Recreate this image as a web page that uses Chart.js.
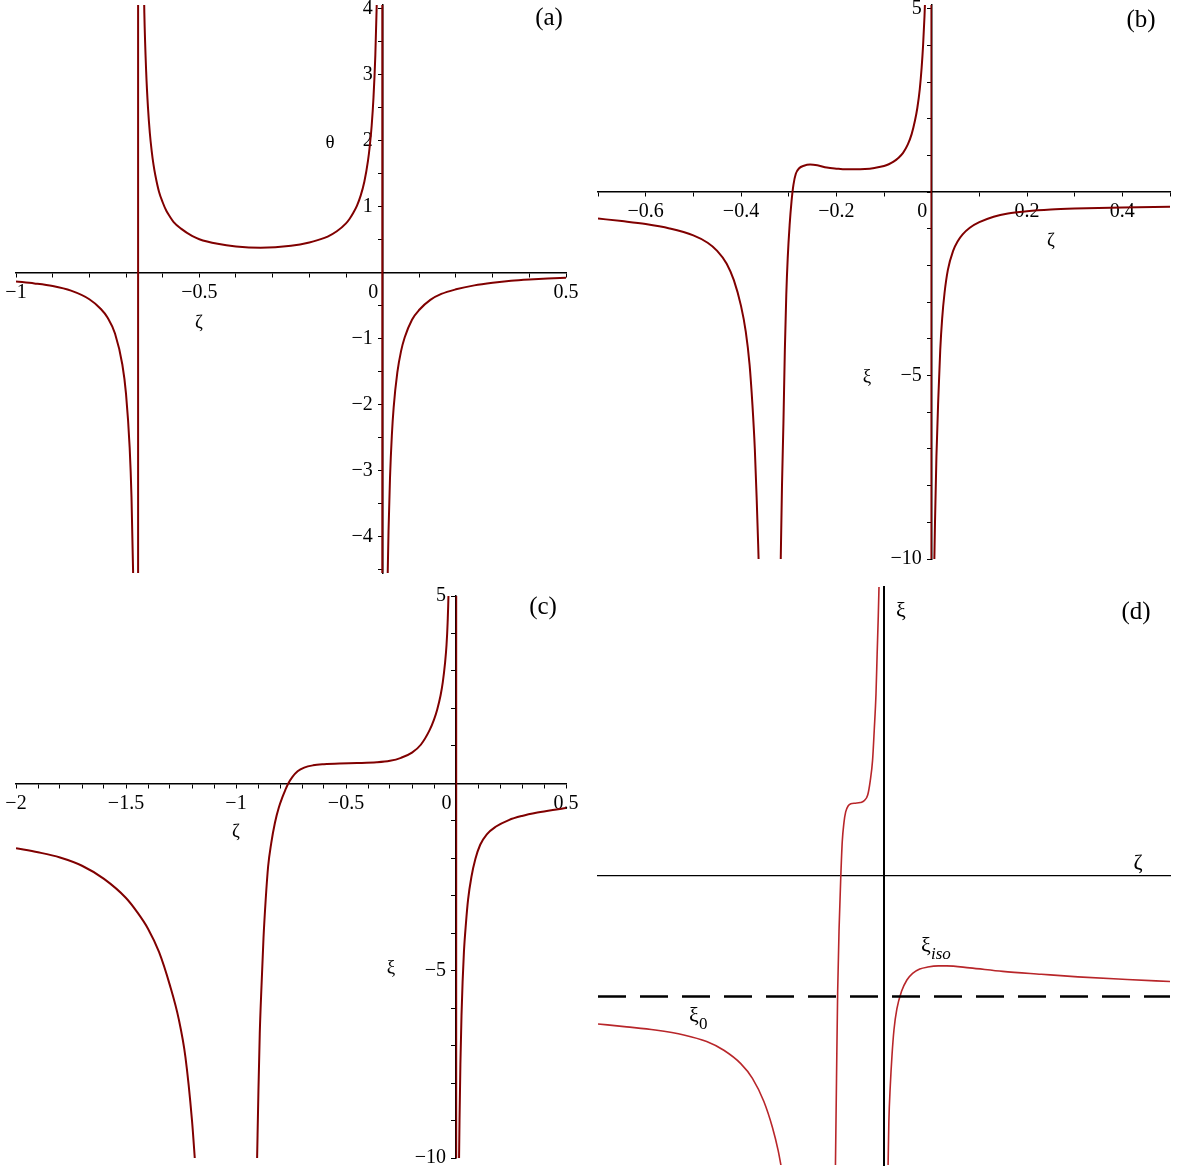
<!DOCTYPE html>
<html>
<head>
<meta charset="utf-8">
<script src="https://cdn.jsdelivr.net/npm/chart.js@4.4.1/dist/chart.umd.min.js"></script>
<style>
    body { margin: 0; background: #fff; }
    #wrap { position: relative; width: 1178px; height: 1167px; }
    canvas { position: absolute; }
</style>
</head>
<body>
<div id="wrap">
    <canvas id="plotA" width="589" height="580" style="left:0;top:0"></canvas>
    <canvas id="plotB" width="589" height="580" style="left:589px;top:0"></canvas>
    <canvas id="plotC" width="589" height="587" style="left:0;top:580px"></canvas>
    <canvas id="plotD" width="589" height="587" style="left:589px;top:580px"></canvas>
</div>
<script>
// (a) theta(zeta)
const aZetaLeft = [-1, -0.95, -0.9, -0.85, -0.8, -0.77, -0.75, -0.73, -0.71, -0.7, -0.69, -0.685, -0.68, -0.678]
const aThetaLeft = [-0.13, -0.16, -0.2, -0.27, -0.4, -0.54, -0.68, -0.92, -1.39, -1.83, -2.65, -3.4, -4.7, -5.55]
const aZetaMid = [-0.655, -0.65, -0.645, -0.64, -0.635, -0.63, -0.625, -0.62, -0.61, -0.6, -0.59, -0.58, -0.57, -0.55, -0.52, -0.5, -0.45, -0.4, -0.333, -0.25, -0.2, -0.175, -0.15, -0.125, -0.1, -0.09, -0.08, -0.07, -0.06, -0.05, -0.04, -0.035, -0.03, -0.025, -0.02, -0.016, -0.014]
const aThetaMid = [5.58, 3.94, 3.05, 2.5, 2.12, 1.85, 1.64, 1.48, 1.23, 1.07, 0.94, 0.85, 0.77, 0.67, 0.56, 0.51, 0.44, 0.4, 0.38, 0.41, 0.46, 0.5, 0.55, 0.63, 0.75, 0.82, 0.91, 1.02, 1.17, 1.38, 1.7, 1.93, 2.23, 2.66, 3.3, 4.1, 4.67]
const aZetaRight = [0.012, 0.014, 0.016, 0.02, 0.025, 0.03, 0.04, 0.05, 0.06, 0.08, 0.1, 0.13, 0.16, 0.2, 0.25, 0.3, 0.35, 0.4, 0.45, 0.5]
const aThetaRight = [-5.24, -4.48, -3.91, -3.11, -2.47, -2.04, -1.51, -1.19, -0.98, -0.71, -0.56, -0.41, -0.32, -0.25, -0.19, -0.15, -0.12, -0.1, -0.085, -0.073]
const aPoleZeta = [-0.667, -0.001]
const aXLabels = [-1, -0.5, 0, 0.5]
const aYLabels = [-4, -3, -2, -1, 1, 2, 3, 4]

// (b) xi(zeta)
const bZetaLeft = [-0.7, -0.65, -0.6, -0.55, -0.5, -0.47, -0.45, -0.43, -0.415, -0.4, -0.39, -0.382, -0.376, -0.371, -0.367, -0.364, -0.362]
const bXiLeft = [-0.72, -0.79, -0.87, -0.99, -1.18, -1.38, -1.6, -1.95, -2.4, -3.1, -3.8, -4.7, -5.8, -7.0, -8.4, -9.6, -10.5]
const bZetaMid = [-0.317, -0.314, -0.311, -0.308, -0.305, -0.302, -0.298, -0.294, -0.29, -0.285, -0.278, -0.268, -0.255, -0.24, -0.22, -0.2, -0.18, -0.16, -0.14, -0.12, -0.1, -0.09, -0.08, -0.07, -0.06, -0.05, -0.042, -0.035, -0.03, -0.025, -0.021, -0.018, -0.015, -0.013]
const bXiMid = [-10.3, -8.0, -6.3, -4.3, -2.8, -1.8, -0.9, -0.25, 0.2, 0.5, 0.65, 0.72, 0.75, 0.73, 0.67, 0.64, 0.62, 0.62, 0.63, 0.66, 0.71, 0.76, 0.83, 0.93, 1.07, 1.3, 1.58, 1.95, 2.3, 2.8, 3.4, 4.0, 4.8, 5.5]
const bZetaRight = [0.005, 0.007, 0.01, 0.014, 0.018, 0.022, 0.027, 0.034, 0.045, 0.055, 0.065, 0.08, 0.1, 0.13, 0.16, 0.2, 0.25, 0.3, 0.4, 0.5]
const bXiRight = [-10.5, -9.0, -7.2, -5.6, -4.3, -3.45, -2.75, -2.12, -1.6, -1.33, -1.15, -0.97, -0.82, -0.67, -0.58, -0.52, -0.475, -0.45, -0.42, -0.4]
const bPoleZeta = [-0.001]
const bXLabels = [-0.6, -0.4, -0.2, 0, 0.2, 0.4]
const bYLabels = [-10, -5, 5]

// (c) xi(zeta), wider range
const cZetaLeft = [-2, -1.9, -1.8, -1.7, -1.6, -1.5, -1.45, -1.4, -1.35, -1.3, -1.26, -1.23, -1.2, -1.185]
const cXiLeft = [-1.73, -1.84, -1.98, -2.2, -2.55, -3.06, -3.43, -3.88, -4.5, -5.4, -6.3, -7.3, -9.0, -10.2]
const cZetaMid = [-0.906, -0.904, -0.898, -0.892, -0.884, -0.875, -0.865, -0.854, -0.84, -0.823, -0.805, -0.789, -0.776, -0.763, -0.745, -0.72, -0.69, -0.65, -0.6, -0.53, -0.45, -0.36, -0.3, -0.25, -0.2, -0.16, -0.12, -0.1, -0.085, -0.07, -0.06, -0.05, -0.043, -0.038, -0.034, -0.032]
const cXiMid = [-10.6, -10, -8.2, -6.68, -5.4, -4.13, -3.1, -2.22, -1.6, -1.05, -0.64, -0.37, -0.18, -0.01, 0.16, 0.32, 0.42, 0.48, 0.51, 0.53, 0.54, 0.56, 0.6, 0.68, 0.82, 1.03, 1.42, 1.7, 1.98, 2.35, 2.7, 3.2, 3.7, 4.3, 5.1, 6.0]
const cZetaRight = [0.013, 0.016, 0.02, 0.025, 0.03, 0.036, 0.045, 0.055, 0.07, 0.088, 0.11, 0.14, 0.18, 0.24, 0.3, 0.37, 0.44, 0.5]
const cXiRight = [-10.5, -9.0, -7.5, -6.2, -5.3, -4.5, -3.75, -3.1, -2.5, -2.02, -1.64, -1.36, -1.16, -0.98, -0.87, -0.78, -0.71, -0.66]
const cPoleZeta = [0.002]
const cXLabels = [-2, -1.5, -1, -0.5, 0, 0.5]
const cYLabels = [-10, -5, 5]

// (d) sketch, arbitrary units
const dZetaLeft = [-1, -0.9, -0.8, -0.7, -0.62, -0.56, -0.5, -0.46, -0.42, -0.39, -0.37, -0.355]
const dXiLeft = [-0.512, -0.522, -0.533, -0.55, -0.573, -0.603, -0.65, -0.7, -0.78, -0.87, -0.95, -1.03]
const dZetaMid = [-0.17, -0.166, -0.162, -0.157, -0.151, -0.146, -0.14, -0.134, -0.125, -0.116, -0.1, -0.083, -0.07, -0.057, -0.048, -0.04, -0.034, -0.028, -0.024, -0.02, -0.017]
const dXiMid = [-1.02, -0.7, -0.4, -0.18, 0, 0.118, 0.185, 0.222, 0.243, 0.25, 0.252, 0.254, 0.26, 0.28, 0.33, 0.4, 0.507, 0.63, 0.767, 0.9, 1.02]
const dZetaRight = [0.014, 0.017, 0.022, 0.028, 0.035, 0.045, 0.061, 0.08, 0.1, 0.125, 0.153, 0.19, 0.219, 0.3, 0.415, 0.55, 0.678, 0.85, 1]
const dXiRight = [-1.02, -0.85, -0.726, -0.62, -0.531, -0.46, -0.4, -0.36, -0.337, -0.322, -0.315, -0.311, -0.311, -0.318, -0.33, -0.34, -0.349, -0.358, -0.365]
const dZetaZero = [-1, 1]
const dXiZero = [-0.417, -0.417]

const maroon = '#800000'
const brick = '#b8262a'

const fmt = v => (v < 0 ? '\u2212' : '') + Math.abs(v)

const axisText = {
    id: 'axisText',
    beforeDatasetsDraw(chart, args, opts) {
        let ctx = chart.ctx
        let sx = chart.scales.x
        let sy = chart.scales.y
        let x0 = sx.getPixelForValue(0)
        let y0 = sy.getPixelForValue(0)
        ctx.save()
        ctx.fillStyle = '#000'
        ctx.font = '20px "Liberation Serif"'
        ctx.textBaseline = 'middle'
        ctx.textAlign = 'center'
        for (let v of opts.xLabels || []) {
            // maple puts the origin label left of the vertical axis
            ctx.fillText(fmt(v), sx.getPixelForValue(v) - (v === 0 ? 9.5 : 0), y0 + 20)
        }
        ctx.textAlign = 'right'
        for (let v of opts.yLabels || []) {
            ctx.fillText(fmt(v), x0 - 10, sy.getPixelForValue(v))
        }
        ctx.restore()
    },
    afterDatasetsDraw(chart, args, opts) {
        let ctx = chart.ctx
        ctx.save()
        ctx.fillStyle = '#000'
        ctx.textBaseline = 'middle'
        ctx.textAlign = 'left'
        for (let n of opts.notes || []) {
            ctx.font = `${n.size}px "Liberation Serif"`
            let w = ctx.measureText(n.text).width
            ctx.fillText(n.text, n.x - w / 2, n.y)
            if (n.sub) {
                ctx.font = `${n.subItalic ? 'italic ' : ''}${n.subSize}px "Liberation Serif"`
                ctx.fillText(n.sub, n.x + w / 2, n.y + n.size * 0.4)
            }
        }
        ctx.restore()
    }
}

Chart.register(axisText)

function line(xs, ys, color, width, dash) {
    return {
        data: xs.map((x, i) => ({ x: x, y: ys[i] })),
        showLine: true,
        pointRadius: 0,
        borderColor: color,
        borderWidth: width,
        borderDash: dash || [],
        cubicInterpolationMode: dash ? 'default' : 'monotone',
        tension: 0
    }
}

// maple joins the branches across a simple pole with a vertical segment
function poles(zetas, lo, hi, width) {
    return zetas.map(z => ({
        data: [{ x: z, y: lo }, { x: z, y: hi }],
        showLine: true,
        pointRadius: 0,
        borderColor: maroon,
        borderWidth: width
    }))
}

const noPad = s => {
    s.paddingLeft = 0
    s.paddingRight = 0
    s.paddingTop = 0
    s.paddingBottom = 0
}

function plot(id, datasets, p) {
    let ticks = p.ticks !== false
    new Chart(document.getElementById(id), {
        type: 'scatter',
        data: { datasets },
        options: {
            responsive: false,
            animation: false,
            devicePixelRatio: 1,
            events: [],
            layout: { padding: p.pad },
            plugins: {
                legend: { display: false },
                tooltip: { enabled: false },
                axisText: { xLabels: p.xLabels, yLabels: p.yLabels, notes: p.notes }
            },
            scales: {
                x: {
                    type: 'linear',
                    min: p.xr[0],
                    max: p.xr[1],
                    position: { y: 0 },
                    grid: { display: ticks, drawOnChartArea: false, drawTicks: true, tickLength: 4, color: '#000', lineWidth: 1 },
                    border: { display: true, color: '#000', width: p.xw || 1.5 },
                    ticks: { display: false, stepSize: p.xs || 1, includeBounds: false },
                    afterFit: noPad
                },
                y: {
                    type: 'linear',
                    min: p.yr[0],
                    max: p.yr[1],
                    position: { x: 0 },
                    grid: { display: ticks, drawOnChartArea: false, drawTicks: true, tickLength: 4, color: '#000', lineWidth: 1 },
                    border: { display: true, color: '#000', width: p.yw || 1.5 },
                    ticks: { display: false, stepSize: p.ys || 1, includeBounds: false },
                    afterFit: noPad
                }
            }
        }
    })
}

plot('plotA', [
    ...poles(aPoleZeta, -6, 6, 2),
    line(aZetaLeft, aThetaLeft, maroon, 2),
    line(aZetaMid, aThetaMid, maroon, 2),
    line(aZetaRight, aThetaRight, maroon, 2)
], {
    pad: { left: 16, right: 23, top: 5, bottom: 7 },
    xr: [-1, 0.5], yr: [-4.55, 4.06], xs: 0.1, ys: 0.5,
    xLabels: aXLabels, yLabels: aYLabels,
    notes: [
        { text: '(a)', x: 549, y: 18, size: 25 },
        { text: 'θ', x: 330, y: 143, size: 19 },
        { text: 'ζ', x: 199, y: 323, size: 19 }
    ]
})

plot('plotB', [
    ...poles(bPoleZeta, -11, 6, 1.5),
    line(bZetaLeft, bXiLeft, maroon, 2),
    line(bZetaMid, bXiMid, maroon, 2),
    line(bZetaRight, bXiRight, maroon, 2)
], {
    pad: { left: 9, right: 8, top: 5, bottom: 21 },
    xr: [-0.7, 0.5], yr: [-10, 5.1], xs: 0.1, ys: 1,
    xLabels: bXLabels, yLabels: bYLabels,
    notes: [
        { text: '(b)', x: 552, y: 20, size: 25 },
        { text: 'ζ', x: 462, y: 241, size: 19 },
        { text: 'ξ', x: 278, y: 377, size: 19 }
    ]
})

plot('plotC', [
    ...poles(cPoleZeta, -11, 6, 1.5),
    line(cZetaLeft, cXiLeft, maroon, 2),
    line(cZetaMid, cXiMid, maroon, 2),
    line(cZetaRight, cXiRight, maroon, 2)
], {
    pad: { left: 16, right: 23, top: 16, bottom: 9 },
    xr: [-2, 0.5], yr: [-10, 5], xs: 0.1, ys: 1,
    xLabels: cXLabels, yLabels: cYLabels,
    notes: [
        { text: '(c)', x: 543, y: 27, size: 25 },
        { text: 'ζ', x: 236, y: 252, size: 19 },
        { text: 'ξ', x: 391, y: 388, size: 19 }
    ]
})

plot('plotD', [
    line(dZetaZero, dXiZero, '#000', 2.5, [28, 14]),
    line(dZetaLeft, dXiLeft, brick, 1.6),
    line(dZetaMid, dXiMid, brick, 1.6),
    line(dZetaRight, dXiRight, brick, 1.6)
], {
    pad: { left: 9, right: 8, top: 7, bottom: 2 },
    xr: [-1, 1], yr: [-1, 1], ticks: false, xw: 1.2, yw: 2,
    notes: [
        { text: '(d)', x: 547, y: 32, size: 25 },
        { text: 'ξ', x: 312, y: 31, size: 22 },
        { text: 'ζ', x: 549, y: 283, size: 22 },
        { text: 'ξ', x: 337, y: 366, size: 22, sub: 'iso', subSize: 17, subItalic: true },
        { text: 'ξ', x: 105, y: 436, size: 22, sub: '0', subSize: 17 }
    ]
})
</script>
</body>
</html>
